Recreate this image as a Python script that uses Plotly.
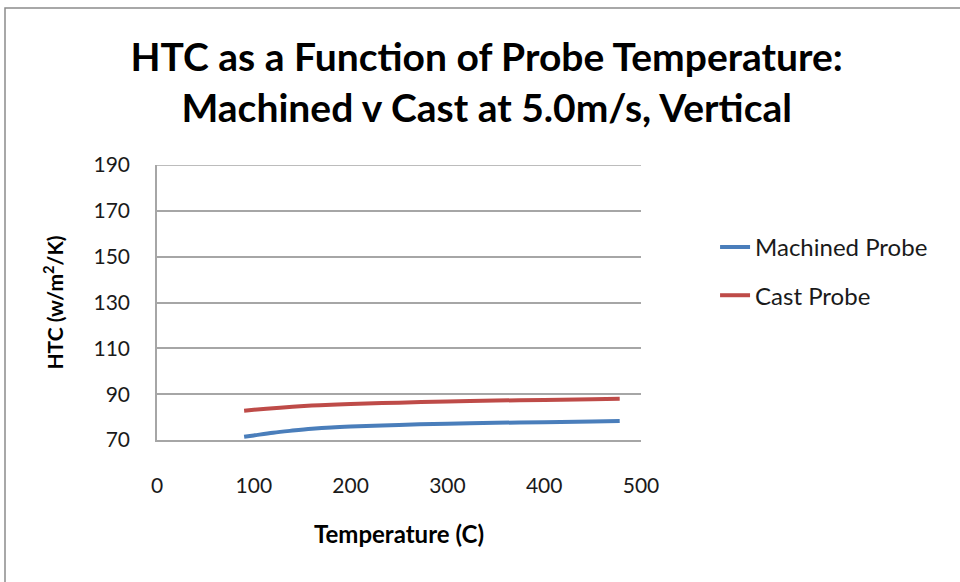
import plotly.graph_objects as go

temperature = [90, 100, 120, 140, 160, 180, 200, 250, 300, 350, 400, 450, 478]
machined = [71.4, 72.0, 73.2, 74.1, 74.9, 75.5, 75.9, 76.6, 77.1, 77.5, 77.8, 78.1, 78.3]
cast = [82.8, 83.2, 83.9, 84.5, 85.0, 85.4, 85.7, 86.3, 86.8, 87.2, 87.5, 87.8, 88.0]

x_ticks = [0, 100, 200, 300, 400, 500]
y_ticks = [70, 90, 110, 130, 150, 170, 190]

FONT = "Lato"
GRID = "#a6a6a6"

fig = go.Figure()
fig.add_trace(go.Scatter(x=temperature, y=machined, mode="lines", name="Machined Probe",
                         line=dict(color="#4a7ebb", width=4, shape="spline"), legendgroup="a"))
fig.add_trace(go.Scatter(x=temperature, y=cast, mode="lines", name="Cast Probe",
                         line=dict(color="#be4b48", width=4, shape="spline"), legendgroup="b"))

fig.update_layout(
    width=960, height=582,
    margin=dict(l=157, r=319, t=165, b=142),
    paper_bgcolor="white", plot_bgcolor="white",
    font=dict(family=FONT, color="#000000"),
    title=dict(text="<b>HTC as a Function of Probe Temperature:<br>Machined v Cast at 5.0m/s, Vertical</b>",
               x=0.507, xanchor="center", y=0.878, yanchor="middle",
               font=dict(family=FONT, size=39, color="#000000")),
    xaxis=dict(range=[0, 500], tickvals=x_ticks, showgrid=False, zeroline=False,
               showline=True, linecolor=GRID, linewidth=1.5,
               ticks="", ticklabelstandoff=26,
               tickfont=dict(family=FONT, size=21, color="#1a1a1a"),
               title=dict(text="<b>Temperature (C)</b>", standoff=30,
                          font=dict(family=FONT, size=24, color="#000000"))),
    yaxis=dict(range=[70, 190], tickvals=y_ticks, showgrid=True, gridcolor=GRID, gridwidth=1.5,
               zeroline=False, showline=True, linecolor=GRID, linewidth=1.5,
               ticks="", ticklabelstandoff=21,
               tickfont=dict(family=FONT, size=21, color="#1a1a1a"),
               title=dict(text="<b>HTC (w/m<sup>2</sup>/K)</b>", standoff=24,
                          font=dict(family=FONT, size=21, color="#000000"))),
    legend=dict(x=1.153, y=0.613, xanchor="left", yanchor="middle",
                font=dict(family=FONT, size=24, color="#1a1a1a"),
                traceorder="grouped", tracegroupgap=14, itemwidth=30,
                bgcolor="rgba(0,0,0,0)"),
    shapes=[
        dict(type="line", xref="paper", yref="y", x0=0, x1=1, y0=y_ticks[-1], y1=y_ticks[-1],
             line=dict(color=GRID, width=1.5), layer="below"),
        dict(type="rect", xref="paper", yref="paper",
             x0=(5 - 157) / 484, x1=(990 - 157) / 484,
             y0=(440 - 600) / 275, y1=(440 - 8) / 275,
             line=dict(color="#8c8c8c", width=1.5), fillcolor="rgba(0,0,0,0)", layer="below"),
    ],
)

fig.write_html("out.html")
